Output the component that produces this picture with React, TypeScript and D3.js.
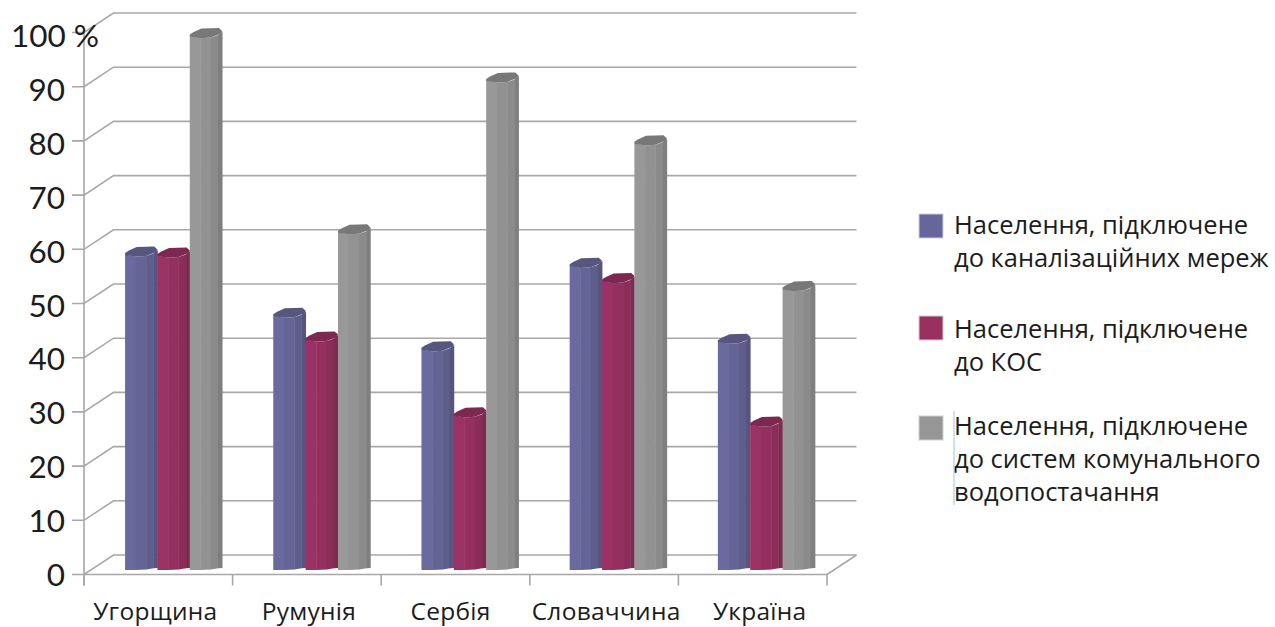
import React from "react";
import * as d3 from "d3";

const categories = ["Угорщина", "Румунія", "Сербія", "Словаччина", "Україна"];
const sewerNetworks = [58.6, 47.3, 41.1, 56.5, 42.5];
const treatmentPlants = [58.4, 42.9, 28.9, 53.7, 27.2];
const waterSupply = [98.9, 62.7, 90.7, 79.1, 52.2];
const yTicks = [0, 10, 20, 30, 40, 50, 60, 70, 80, 90, 100];

const legendLines = [
  ["Населення, підключене", "до каналізаційних мереж"],
  ["Населення, підключене", "до КОС"],
  ["Населення, підключене", "до систем комунального", "водопостачання"],
];

// Facet colours of each cylinder, left to right, and the cap
const seriesColors = [
  { facets: ["#6a6a9e", "#646496", "#5e5e8c", "#55557f"], cap: "#56567f", swatch: "#66669c" },
  { facets: ["#9b3265", "#93305f", "#8a2d59", "#7e2a51"], cap: "#7c2850", swatch: "#99305f" },
  { facets: ["#989898", "#929292", "#8b8b8b", "#7f7f7f"], cap: "#787878", swatch: "#969696" },
];
const seriesValues = [sewerNetworks, treatmentPlants, waterSupply];

const W = 1275;
const H = 627;
const FRONT_LEFT = 84;
const FRONT_RIGHT = 827;
const FRONT_ZERO = 574.5;
const FRONT_TOP = 32.5;
const DEPTH_X = 29.5;
const DEPTH_Y = -19.5;
const BAR_SHIFT_X = 15.5;
const BAR_SHIFT_Y = -5.5;
const GRID = "#a8a8a8";
const TEXT = "#1c1c1c";
const FONT = "'Open Sans', 'Noto Sans', sans-serif";
const categoryNudge = [-3, 2, -5, 2, 7];
const SWATCH_Y = [214, 316, 416];
const LEGEND_BASE_Y = [234, 338, 435];

const yFront = d3.scaleLinear().domain([0, 100]).range([FRONT_ZERO, FRONT_TOP]);
// The value labels sit on a slightly tighter ladder than the gridlines
const yLabel = d3.scaleLinear().domain([0, 100]).range([586, 47]);
const xBand = d3
  .scaleBand<string>()
  .domain(categories)
  .range([FRONT_LEFT + BAR_SHIFT_X, FRONT_RIGHT + BAR_SHIFT_X - 2])
  .paddingInner(0.345)
  .paddingOuter(0.1725);
const xSeries = d3
  .scaleBand<number>()
  .domain([0, 1, 2])
  .range([0, xBand.bandwidth()]);

const polyline = d3.line<[number, number]>();

function Bar({ x, w, value, s }: { x: number; w: number; value: number; s: number }) {
  const top = yFront(value) + BAR_SHIFT_Y;
  const base = yFront(0) + BAR_SHIFT_Y;
  const c = seriesColors[s];
  // Faceted body: vertical strips that end at the rim of the cap
  const edges = [0, 0.33, 0.65, 0.87, 1].map((t) => x + t * w);
  const rim = [top + 3, top + 5.2, top + 4.5, top + 2, top - 1.5];
  const foot = [base + 1, base + 1, base + 0.5, base - 0.8, base - 1];
  const cap: [number, number][] = [
    [x, top + 1.5],
    [x + 0.12 * w, top - 1],
    [x + 0.36 * w, top - 4.5],
    [x + 0.9 * w, top - 5],
    [x + w, top - 2],
    [x + 0.96 * w, top + 0.5],
    [x + 0.65 * w, top + 4.5],
    [x + 0.33 * w, top + 5.2],
    [x, top + 3.5],
  ];
  return (
    <g>
      {[0, 1, 2, 3].map((i) => (
        <path
          key={i}
          fill={c.facets[i]}
          d={
            polyline([
              [edges[i], rim[i]],
              [edges[i + 1] + 0.4, rim[i + 1]],
              [edges[i + 1] + 0.4, foot[i + 1]],
              [edges[i], foot[i]],
            ]) + "Z"
          }
        />
      ))}
      <path fill={c.cap} d={polyline(cap) + "Z"} />
    </g>
  );
}

export default function App() {
  const backRight = FRONT_RIGHT + DEPTH_X;
  const xTickPositions = d3.range(categories.length + 1).map(
    (i) => FRONT_LEFT + (i * (FRONT_RIGHT - FRONT_LEFT)) / categories.length
  );
  return (
    <svg
      width={W}
      height={H}
      viewBox={`0 0 ${W} ${H}`}
      style={{ position: "absolute", left: 0, top: 0, background: "#fff" }}
      fontFamily={FONT}
    >
      {/* Back wall gridlines with their diagonals on the side wall */}
      {yTicks.map((t) => {
        const y = yFront(t);
        return (
          <path
            key={t}
            stroke={GRID}
            strokeWidth={1.6}
            fill="none"
            d={polyline([[72, y], [FRONT_LEFT, y], [FRONT_LEFT + DEPTH_X, y + DEPTH_Y], [backRight, y + DEPTH_Y]]) ?? ""}
          />
        );
      })}
      <g stroke={GRID} strokeWidth={1.6} fill="none">
        <line x1={FRONT_LEFT} x2={FRONT_LEFT} y1={yFront(100)} y2={FRONT_ZERO + 11} />
        <line x1={FRONT_LEFT} x2={FRONT_RIGHT} y1={FRONT_ZERO} y2={FRONT_ZERO} />
        <line x1={FRONT_RIGHT} x2={backRight} y1={FRONT_ZERO} y2={FRONT_ZERO + DEPTH_Y} />
        {xTickPositions.map((x) => (
          <line key={x} x1={x} x2={x} y1={FRONT_ZERO} y2={FRONT_ZERO + 11} />
        ))}
      </g>

      {categories.map((cat, ci) =>
        seriesValues.map((vals, s) => (
          <Bar
            key={`${cat}-${s}`}
            x={(xBand(cat) as number) + (xSeries(s) as number)}
            w={xSeries.bandwidth()}
            value={vals[ci]}
            s={s}
          />
        ))
      )}

      {/* Value axis labels */}
      {yTicks.map((t) => (
        <text
          key={t}
          x={t === 100 ? 11 : 65}
          y={yLabel(t)}
          textAnchor={t === 100 ? "start" : "end"}
          fontSize={31.5}
          fill={TEXT}
          fontFamily="'Lato', 'Open Sans', sans-serif"
        >
          {t === 100 ? "100 %" : t}
        </text>
      ))}

      {/* Category labels */}
      {categories.map((cat, i) => (
        <text
          key={cat}
          x={(xTickPositions[i] + xTickPositions[i + 1]) / 2 + categoryNudge[i]}
          y={619.5}
          textAnchor="middle"
          fontSize={24.5}
          letterSpacing={0.25}
          fill={TEXT}
        >
          {cat}
        </text>
      ))}

      {/* Legend */}
      {legendLines.map((lines, i) => (
        <g key={i}>
          <rect x={919} y={SWATCH_Y[i]} width={24} height={24} fill={seriesColors[i].swatch} stroke="#d0d0d0" strokeWidth={1} />
          {lines.map((line, j) => (
            <text key={j} x={954} y={LEGEND_BASE_Y[i] + j * 33} fontSize={25.5} fill={TEXT}>
              {line}
            </text>
          ))}
        </g>
      ))}
      <line x1={954} x2={954} y1={411} y2={505} stroke="#9cc3e0" strokeWidth={1} />
    </svg>
  );
}
